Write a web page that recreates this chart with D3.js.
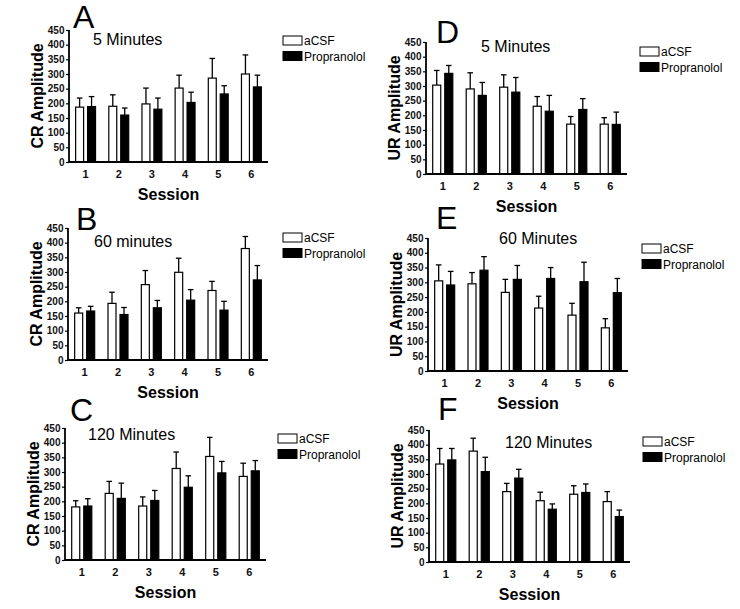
<!DOCTYPE html>
<html><head><meta charset="utf-8">
<script src="https://cdn.jsdelivr.net/npm/d3@7"></script>
<style>
html,body{margin:0;padding:0;background:#fff;}
svg{display:block;font-family:Arial,"Liberation Sans",sans-serif;}
</style></head>
<body>
<svg id="chart" width="740" height="609"></svg>
<script>
const sessions = ["1","2","3","4","5","6"];
const groups = ["aCSF","Propranolol"];
const yTicks = [0,50,100,150,200,250,300,350,400,450];

// Panel A: CR, 5 Minutes
const crA_aCSF = [187,190,198,252,286,300];
const crA_aCSF_sem = [31,39,54,44,67,65];
const crA_prop = [189,160,180,203,232,256];
const crA_prop_sem = [34,24,38,35,28,40];
// Panel B: CR, 60 minutes
const crB_aCSF = [160,193,257,299,237,380];
const crB_aCSF_sem = [18,38,48,48,31,41];
const crB_prop = [167,155,178,204,170,273];
const crB_prop_sem = [16,24,25,36,30,49];
// Panel C: CR, 120 Minutes
const crC_aCSF = [181,227,184,312,353,285];
const crC_aCSF_sem = [21,41,31,56,65,45];
const crC_prop = [184,210,203,248,297,304];
const crC_prop_sem = [25,52,34,39,39,35];
// Panel D: UR, 5 Minutes
const urD_aCSF = [303,290,296,231,170,170];
const urD_aCSF_sem = [50,55,42,33,26,22];
const urD_prop = [343,268,279,214,220,169];
const urD_prop_sem = [27,44,50,54,37,42];
// Panel E: UR, 60 Minutes
const urE_aCSF = [305,295,266,213,189,146];
const urE_aCSF_sem = [54,38,44,40,40,31];
const urE_prop = [291,341,310,313,302,265];
const urE_prop_sem = [46,46,47,37,66,48];
// Panel F: UR, 120 Minutes
const urF_aCSF = [334,378,240,209,231,206];
const urF_aCSF_sem = [53,44,28,29,29,34];
const urF_prop = [348,308,286,180,237,155];
const urF_prop_sem = [39,49,30,18,29,22];

const panels = [
  {letter:"A", title:"5 Minutes", ylab:"CR Amplitude", a:crA_aCSF, ae:crA_aCSF_sem, p:crA_prop, pe:crA_prop_sem,
   left:69,right:268,bottom:162,top:30, lx:73,ly:28, tx:93,ty:45, gx:283,gy:36},
  {letter:"B", title:"60 minutes", ylab:"CR Amplitude", a:crB_aCSF, ae:crB_aCSF_sem, p:crB_prop, pe:crB_prop_sem,
   left:68,right:268,bottom:360,top:228, lx:76,ly:230, tx:94,ty:247, gx:283,gy:233},
  {letter:"C", title:"120 Minutes", ylab:"CR Amplitude", a:crC_aCSF, ae:crC_aCSF_sem, p:crC_prop, pe:crC_prop_sem,
   left:65,right:266,bottom:560,top:428, lx:70,ly:421, tx:88,ty:440, gx:278,gy:434},
  {letter:"D", title:"5 Minutes", ylab:"UR Amplitude", a:urD_aCSF, ae:urD_aCSF_sem, p:urD_prop, pe:urD_prop_sem,
   left:426,right:627,bottom:174,top:42, lx:436,ly:43, tx:481,ty:52, gx:640,gy:47},
  {letter:"E", title:"60 Minutes", ylab:"UR Amplitude", a:urE_aCSF, ae:urE_aCSF_sem, p:urE_prop, pe:urE_prop_sem,
   left:428,right:628,bottom:371,top:238, lx:436,ly:229, tx:499,ty:244, gx:642,gy:244},
  {letter:"F", title:"120 Minutes", ylab:"UR Amplitude", a:urF_aCSF, ae:urF_aCSF_sem, p:urF_prop, pe:urF_prop_sem,
   left:429,right:630,bottom:562,top:430, lx:438,ly:420, tx:505,ty:448, gx:643,gy:437}
];

const svg = d3.select("#chart");
const fills = {aCSF:"#ffffff", Propranolol:"#000000"};

panels.forEach(P => {
  const g = svg.append("g");
  const x = d3.scaleBand().domain(sessions).range([P.left, P.right]).paddingInner(0).paddingOuter(0);
  const bw = x.bandwidth();
  const x1 = d3.scaleBand().domain(groups).range([bw*0.2, bw*0.8]).paddingInner(1/3);
  const y = d3.scaleLinear().domain([0,450]).range([P.bottom, P.top]);

  const rows = [];
  sessions.forEach((s,i) => {
    rows.push({s, grp:"aCSF", v:P.a[i], e:P.ae[i]});
    rows.push({s, grp:"Propranolol", v:P.p[i], e:P.pe[i]});
  });

  // error bars
  rows.forEach(r => {
    const cx = x(r.s) + x1(r.grp) + x1.bandwidth()/2;
    g.append("line").attr("x1",cx).attr("x2",cx).attr("y1",y(r.v)).attr("y2",y(r.v+r.e))
      .attr("stroke","#000").attr("stroke-width",1.3);
    g.append("line").attr("x1",cx-2.8).attr("x2",cx+2.8).attr("y1",y(r.v+r.e)).attr("y2",y(r.v+r.e))
      .attr("stroke","#000").attr("stroke-width",1.3);
  });
  // bars
  g.selectAll("rect.bar").data(rows).enter().append("rect")
    .attr("x", d => x(d.s) + x1(d.grp))
    .attr("y", d => y(d.v))
    .attr("width", x1.bandwidth())
    .attr("height", d => y(0) - y(d.v))
    .attr("fill", d => fills[d.grp])
    .attr("stroke","#000").attr("stroke-width",1.2);

  // y axis
  const ya = d3.axisLeft(y).tickValues(yTicks).tickSize(3).tickPadding(1.5);
  const yg = g.append("g").attr("transform",`translate(${P.left},0)`).call(ya);
  yg.select(".domain").attr("stroke-width",1.8).attr("d",`M0,${P.bottom+1}V${P.top}`);
  yg.selectAll(".tick line").attr("stroke-width",1.2);
  yg.selectAll(".tick text").attr("font-size","10px").attr("font-weight","bold")
    .attr("font-family","Arial,'Liberation Sans',sans-serif").attr("fill","#111");

  // x axis
  const xa = d3.axisBottom(x).tickSize(0).tickPadding(8);
  const xg = g.append("g").attr("transform",`translate(0,${P.bottom})`).call(xa);
  xg.select(".domain").attr("stroke-width",1.8).attr("d",`M${P.left},0H${P.right}`);
  xg.selectAll(".tick text").attr("font-size","11px").attr("font-weight","bold")
    .attr("font-family","Arial,'Liberation Sans',sans-serif").attr("fill","#111");

  // axis titles
  g.append("text").attr("x",(P.left+P.right)/2).attr("y",P.bottom+38)
    .attr("text-anchor","middle").attr("font-size","16px").attr("font-weight","bold").text("Session");
  g.append("text").attr("transform",`translate(${P.left-26},${(P.top+P.bottom)/2}) rotate(-90)`)
    .attr("text-anchor","middle").attr("font-size","16px").attr("font-weight","bold").text(P.ylab);

  // panel letter and title
  g.append("text").attr("x",P.lx).attr("y",P.ly).attr("font-size","32px").text(P.letter);
  g.append("text").attr("x",P.tx).attr("y",P.ty).attr("font-size","16px").text(P.title);

  // legend
  groups.forEach((k,i) => {
    g.append("rect").attr("x",P.gx).attr("y",P.gy + i*15.5).attr("width",19).attr("height",9)
      .attr("fill",fills[k]).attr("stroke","#000").attr("stroke-width",1);
    g.append("text").attr("x",P.gx+21).attr("y",P.gy + i*15.5 + 9).attr("font-size","12px").text(k);
  });
});
</script>
</body></html>
